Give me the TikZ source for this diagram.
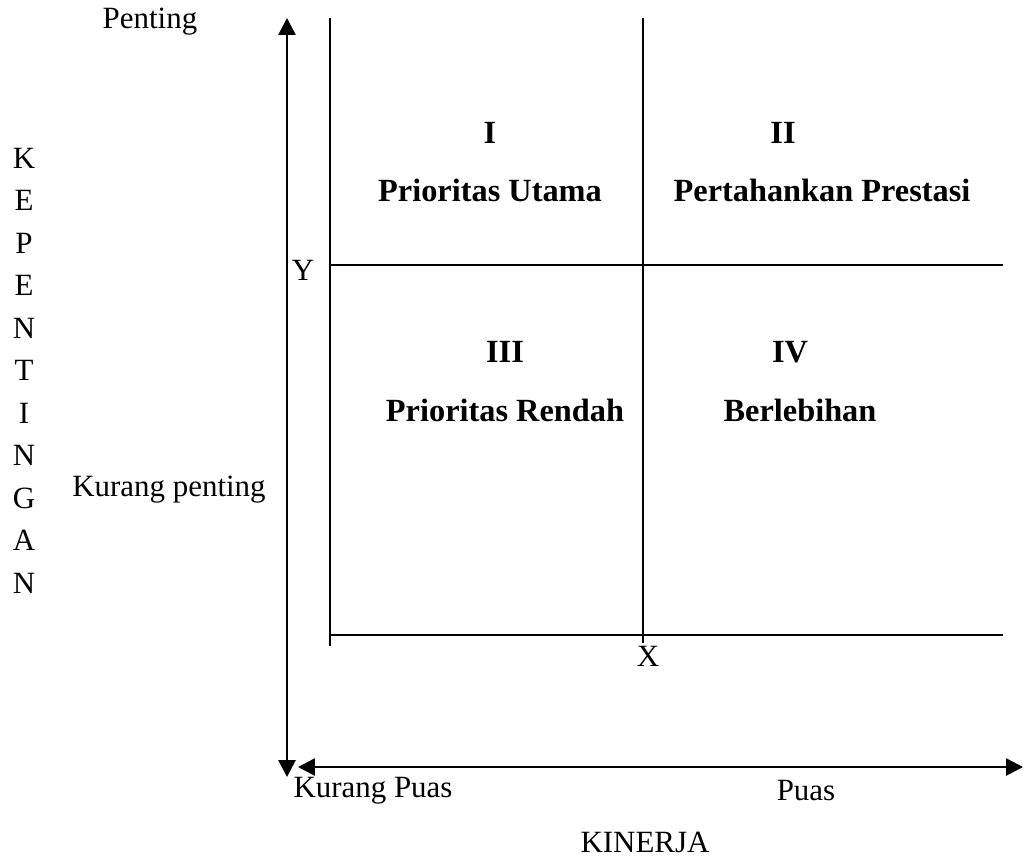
\documentclass[tikz,border=0pt]{standalone}
\usepackage{fontspec}
\setmainfont{Liberation Serif}
\usepackage{tikz}
\usetikzlibrary{arrows.meta}
\tikzset{
  axis/.style={line width=1.9pt, {Triangle[length=12pt,width=12pt]}-{Triangle[length=12pt,width=12pt]}},
  grid/.style={line width=1.4pt},
  lbl/.style={inner sep=0pt, font=\fontsize{22}{26}\selectfont},
  quad/.style={lbl, font=\fontsize{23}{27}\selectfont\bfseries}
}
\begin{document}
\begin{tikzpicture}[x=0.025cm, y=-0.025cm, line cap=butt]
  \useasboundingbox (0,0) rectangle (1023,858);
  % axes
  \coordinate (ytop) at (287,18);
  \coordinate (ybot) at (287,777);
  \coordinate (xleft) at (298,767);
  \coordinate (xright) at (1023,767);
  \draw[axis] (ybot)--(ytop);
  \draw[axis] (xleft)--(xright);

  % quadrant lines
  \coordinate (L1) at (330,18);
  \coordinate (L2) at (330,646);
  \coordinate (M1) at (643,18);
  \coordinate (M2) at (643,643);
  \coordinate (H1) at (330,265);
  \coordinate (H2) at (1003,265);
  \coordinate (B1) at (330,635);
  \coordinate (B2) at (1003,635);
  \draw[grid] (L1)--(L2);
  \draw[grid] (M1)--(M2);
  \draw[grid] (H1)--(H2);
  \draw[grid] (B1)--(B2);

  % axis labels
  \node[lbl] (penting) at (150,22) {Penting};
  \node[lbl] (kpenting) at (169,490) {Kurang penting};
  \node[lbl] (ylbl) at (303,270) {Y};
  \node[lbl] (xlbl) at (648,656) {X};
  \node[lbl] (kpuas) at (373,791) {Kurang Puas};
  \node[lbl] (puas) at (806,791) {Puas};
  \node[lbl] (kinerja) at (645,842) {KINERJA};
  \foreach \ch [count=\i from 0] in {K,E,P,E,N,T,I,N,G,A,N}
    \node[lbl] (kep\i) at (24,158+42.5*\i) {\ch};

  % quadrants
  \node[quad] (q1) at (490,133) {I};
  \node[quad] (q1t) at (490,190) {Prioritas Utama};
  \node[quad] (q2) at (783,133) {II};
  \node[quad] (q2t) at (822,190) {Pertahankan Prestasi};
  \node[quad] (q3) at (505,352) {III};
  \node[quad] (q3t) at (505,410) {Prioritas Rendah};
  \node[quad] (q4) at (790,352) {IV};
  \node[quad] (q4t) at (800,410) {Berlebihan};
\end{tikzpicture}
\end{document}
